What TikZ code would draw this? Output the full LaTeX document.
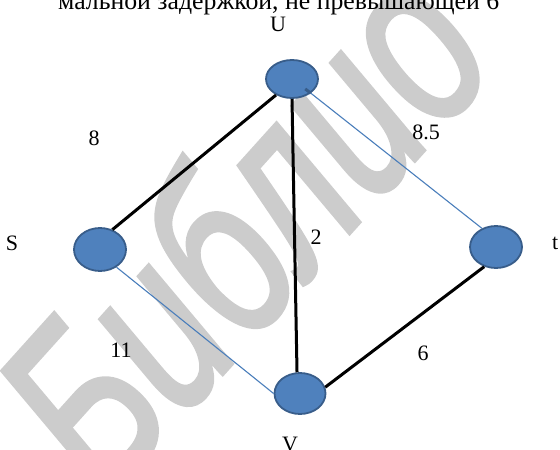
\documentclass[tikz,border=0pt]{standalone}
\usepackage{fontspec}
\usepackage{graphicx}
\setmainfont{Liberation Serif}
\newfontfamily\wmfont[FakeBold=2]{Liberation Sans}
\usetikzlibrary{shapes.geometric,calc}
\definecolor{nodefill}{HTML}{4F81BD}
\definecolor{nodeborder}{HTML}{385D8A}
\definecolor{thinblue}{HTML}{4A7EBB}
\definecolor{wmgray}{HTML}{CCCCCC}
\begin{document}
\begin{tikzpicture}[x=1pt,y=-1pt,
  vertex/.style={ellipse, fill=nodefill, draw=nodeborder, line width=1.8pt, inner sep=0pt},
  heavy/.style={line width=3pt, black},
  light/.style={line width=1.1pt, thinblue},
  lbl/.style={font=\fontsize{22}{24}\selectfont, inner sep=0pt}]
\useasboundingbox (0,0) rectangle (560,450);
\clip (0,0) rectangle (560,450);
% watermark
\node[rotate=48, anchor=base west, text=wmgray, inner sep=0pt,
      font=\wmfont\itshape\fontsize{240}{240}\selectfont] (wm) at (106,503)
  {\scalebox{0.72}[1]{Библио}};
% cut-off line of text at the top
\node[anchor=base west, inner sep=0pt] (head) at (58,9.5)
  {\resizebox{441pt}{!}{\fontsize{26}{28}\selectfont мальной задержкой, не превышающей 6}};
% vertices
\node[vertex, minimum width=52pt, minimum height=38pt] (U) at (292,79) {};
\node[vertex, minimum width=52pt, minimum height=43pt] (S) at (100,249.5) {};
\node[vertex, minimum width=52pt, minimum height=42pt] (T) at (496,247) {};
\node[vertex, minimum width=51pt, minimum height=41pt] (V) at (300,393.5) {};
% edges
\draw[heavy] (U.225) -- (S.58);
\draw[heavy] (U.270) -- (V.98);
\draw[heavy] (V.14) -- (T.239);
\draw[light] (S.313) -- (V.180);
\draw[light] (U.323) -- (T.127);
\draw[nodeborder, line width=3pt] ($(U)!0.7!(U.323)$) -- (U.323);
% labels
\node[lbl] (lU) at (278,24) {U};
\node[lbl] (lS) at (12,243) {S};
\node[lbl, anchor=base west] (lT) at (552,249.5) {t};
\node[lbl] (lV) at (290,444.5) {V};
\node[lbl] (w8) at (94,138) {8};
\node[lbl] (w85) at (426,132) {8.5};
\node[lbl] (w2) at (316,237) {2};
\node[lbl] (w11) at (121,350) {11};
\node[lbl] (w6) at (423,353) {6};
\end{tikzpicture}
\end{document}
